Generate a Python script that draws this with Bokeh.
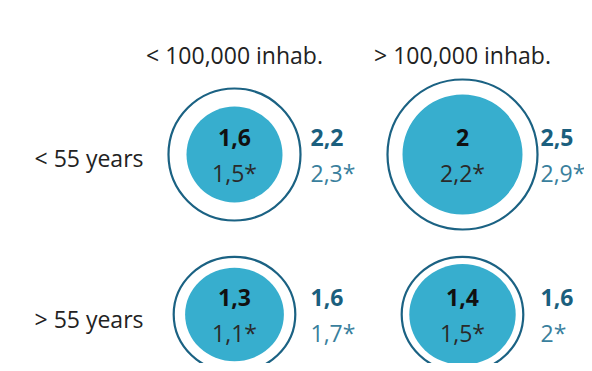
from bokeh.plotting import figure
from bokeh.models import Range1d, ColumnDataSource
from bokeh.core.properties import value
from bokeh.embed import file_html
from bokeh.resources import INLINE

# ---- data ----
columns = ["< 100,000 inhab.", "> 100,000 inhab."]
rows = ["< 55 years", "> 55 years"]
inner_vals = [[1.6, 2.0], [1.3, 1.4]]        # bold value inside circle
inner_star = [[1.5, 2.2], [1.1, 1.5]]        # starred value inside circle
outer_vals = [[2.2, 2.5], [1.6, 1.6]]        # bold value beside circle (outer ring)
outer_star = [[2.3, 2.9], [1.7, 2.0]]        # starred value beside circle

# ---- layout (pixels) ----
col_cx = [234, 462]
col_label_x = [310, 540]
row_cy = [154, 314]
row_sx = [30.0, 38.0]   # px per unit, horizontal radius
row_sy = [30.0, 36.0]   # px per unit, vertical radius
FONT = value("Open Sans")

def fmt(v, star=False):
    s = ("%g" % v).replace(".", ",")
    return s + ("*" if star else "")

xs, ys, iw, ih, ow, oh = [], [], [], [], [], []
t_in_b, t_in_s, t_out_b, t_out_s, lx = [], [], [], [], []
for r in range(len(rows)):
    for c in range(len(columns)):
        xs.append(col_cx[c]); ys.append(row_cy[r])
        iw.append(2 * row_sx[r] * inner_vals[r][c]); ih.append(2 * row_sy[r] * inner_vals[r][c])
        ow.append(2 * row_sx[r] * outer_vals[r][c]); oh.append(2 * row_sy[r] * outer_vals[r][c])
        t_in_b.append(fmt(inner_vals[r][c])); t_in_s.append(fmt(inner_star[r][c], True))
        t_out_b.append(fmt(outer_vals[r][c])); t_out_s.append(fmt(outer_star[r][c], True))
        lx.append(col_label_x[c])

src = ColumnDataSource(dict(
    x=xs, y=ys, iw=iw, ih=ih, ow=ow, oh=oh,
    yb=[y - 17 for y in ys], ys=[y + 18 for y in ys],
    tib=t_in_b, tis=t_in_s, tob=t_out_b, tos=t_out_s, lx=lx,
))

p = figure(width=584, height=363, x_range=Range1d(0, 584), y_range=Range1d(363, 0),
           output_backend="svg", toolbar_location=None, min_border=0,
           x_axis_type=None, y_axis_type=None)
p.grid.visible = False
p.outline_line_color = None
p.background_fill_color = "white"
p.border_fill_color = "white"

p.ellipse(x="x", y="y", width="ow", height="oh", source=src,
          fill_color="white", line_color="#1b6283", line_width=2.2)
p.ellipse(x="x", y="y", width="iw", height="ih", source=src,
          fill_color="#37aece", line_color=None)

p.text(x="x", y="yb", text="tib", source=src, text_align="center", text_baseline="middle",
       text_font=FONT, text_font_size="23px", text_font_style="bold", text_color="#111111")
p.text(x="x", y="ys", text="tis", source=src, text_align="center", text_baseline="middle",
       text_font=FONT, text_font_size="23px", text_color="#2a2a2a")
p.text(x="lx", y="yb", text="tob", source=src, text_align="left", text_baseline="middle",
       text_font=FONT, text_font_size="23px", text_font_style="bold", text_color="#1b5f7e")
p.text(x="lx", y="ys", text="tos", source=src, text_align="left", text_baseline="middle",
       text_font=FONT, text_font_size="23px", text_color="#3a7f9d")

# column headers
p.text(x=col_cx, y=[54, 54], text=columns, text_align="center", text_baseline="middle",
       text_font=FONT, text_font_size="23px", text_color="#222222")
# row labels
p.text(x=[143, 143], y=[157, 318], text=rows, text_align="right", text_baseline="middle",
       text_font=FONT, text_font_size="23px", text_color="#222222")

open("out.html", "w").write(file_html(p, INLINE))
